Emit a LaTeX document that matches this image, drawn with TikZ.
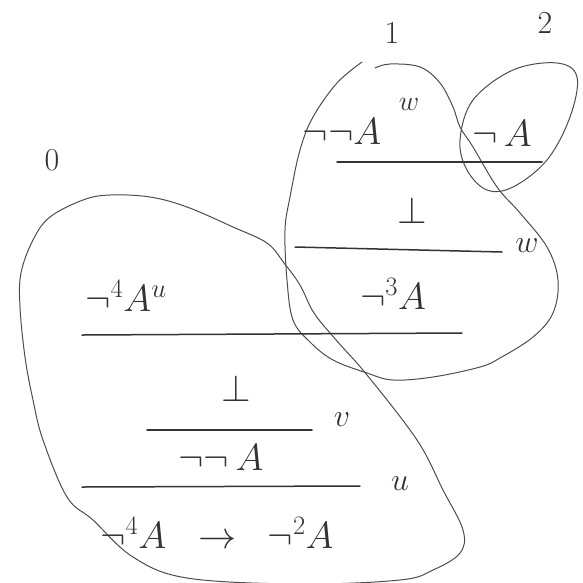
\documentclass[tikz,border=0pt]{standalone}
\usepackage{fix-cm}
\usepackage{amsfonts,amsmath,amssymb}
\definecolor{pencil}{HTML}{4D4D4D}
\definecolor{lead}{HTML}{333333}
\tikzset{
  every picture/.style={line join=round, line cap=round},
  blob/.style={draw=pencil, line width=1pt},
  rulebar/.style={draw=lead, line width=1.5pt},
  frm/.style={text=lead, inner sep=0pt, font=\fontsize{38}{42}\selectfont},
  tag/.style={text=lead, inner sep=0pt, font=\fontsize{32}{36}\selectfont},
}

\begin{document}
\begin{tikzpicture}[x=1pt,y=-1pt]
\useasboundingbox (0,0) rectangle (583,582);
\draw[blob] plot[smooth cycle, tension=0.6] coordinates {(233,227) (267,243) (284,263) (300,285) (314,313) (337,341) (367,375) (417,440) (443,490) (463,530) (460,553) (433,570) (400,580) (300,584) (187,578) (133,557) (93,520) (67,497) (43,440) (33,400) (25,357) (20,307) (21,273) (33,240) (50,217) (83,200) (110,195) (150,197) (187,207)};
\draw[blob] plot[smooth, tension=0.6] coordinates {(362,62) (337,83) (313,117) (300,150) (290,197) (285,230) (287,280) (293,320) (310,342) (333,360) (367,373) (393,380) (433,377) (480,367) (500,358) (533,337) (553,313) (558,280) (547,247) (520,213) (497,187) (473,147) (460,127) (453,107) (440,83) (420,67) (390,64) (375,68)};
\draw[blob] plot[smooth cycle, tension=0.6] coordinates {(460,140) (473,100) (513,70) (557,63) (577,77) (570,117) (547,160) (513,187) (487,190) (467,170)};
\node[tag] (zero) at (52,160) {$0$};
\node[tag] (one) at (392,33) {$1$};
\node[tag] (two) at (545,23) {$2$};
\node[frm] (nnAw) at (342,132) {$\neg\neg A$};
\node[tag,font=\fontsize{28}{32}\selectfont] (wsup) at (409,104) {$w$};
\node[frm] (nA) at (502,134) {$\neg\, A$};
\draw[rulebar] (337,162)--(542,162);
\node[frm] (botw) at (412,210) {$\bot$};
\draw[rulebar] (295,247)--(502,252);
\node[tag] (wlab) at (527,246) {$w$};
\node[frm] (n3A) at (393,294) {$\neg^3 A$};
\node[frm] (n4Au) at (126,296) {$\neg^4 A^u$};
\draw[rulebar] (82,335)--(462,333);
\node[frm] (botv) at (236,388) {$\bot$};
\draw[rulebar] (147,430)--(312,430);
\node[tag] (vlab) at (342,420) {$v$};
\node[frm] (nnA) at (221,458) {$\neg\neg\, A$};
\draw[rulebar] (82,487)--(360,486);
\node[tag] (ulab) at (400,484) {$u$};
\node[frm] (goal) at (217,533) {$\neg^4 A\;\;\to\;\;\neg^2 A$};
\end{tikzpicture}
\end{document}
